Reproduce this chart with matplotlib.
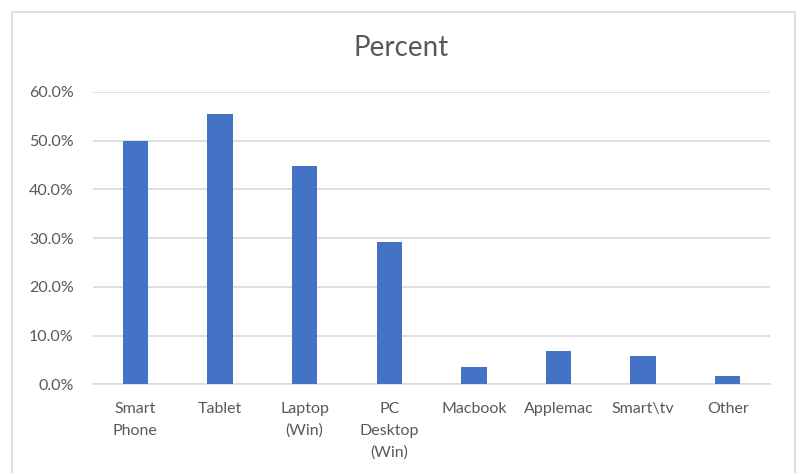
import matplotlib.pyplot as plt
from matplotlib.ticker import PercentFormatter
from matplotlib.patches import Rectangle

# Device share data
devices = ['Smart\nPhone', 'Tablet', 'Laptop\n(Win)', 'PC\nDesktop\n(Win)',
           'Macbook', 'Applemac', 'Smart\\tv', 'Other']
percent = [49.8, 55.4, 44.8, 29.1, 3.5, 6.8, 5.8, 1.8]

plt.rcParams['font.family'] = ['Lato', 'DejaVu Sans']
text_col = '#595959'
grid_col = '#d9d9d9'

fig = plt.figure(figsize=(7.98, 4.73), dpi=100)
ax = fig.add_axes([0.1165, 0.1875, 0.8485, 0.6185])

x = range(len(devices))
ax.bar(x, percent, width=0.30, color='#4472c4', zorder=3)

ax.set_ylim(0, 60)
ax.set_xlim(-0.5, len(devices) - 0.5)
ax.set_yticks(range(0, 61, 10))
ax.yaxis.set_major_formatter(PercentFormatter(decimals=1))
ax.set_xticks(list(x))
ax.set_xticklabels(devices, linespacing=1.65)
ax.grid(axis='y', color=grid_col, linewidth=1.2, zorder=0)
for s in ['top', 'left', 'right']:
    ax.spines[s].set_visible(False)
ax.spines['bottom'].set_color(grid_col)
ax.spines['bottom'].set_linewidth(1.2)
ax.tick_params(axis='both', length=0, colors=text_col, labelsize=11.5)
ax.tick_params(axis='y', pad=14)
ax.tick_params(axis='x', pad=13)

fig.text(0.503, 0.898, 'Percent', ha='center', va='center',
         fontsize=20, color=text_col)

# chart area border
fig.patches.append(Rectangle((12 / 798, -0.05), 783 / 798, 1.05 - 12 / 473,
                             transform=fig.transFigure, fill=False,
                             edgecolor='#d9d9d9', linewidth=1.2))

fig.savefig('out.png', dpi=100)
